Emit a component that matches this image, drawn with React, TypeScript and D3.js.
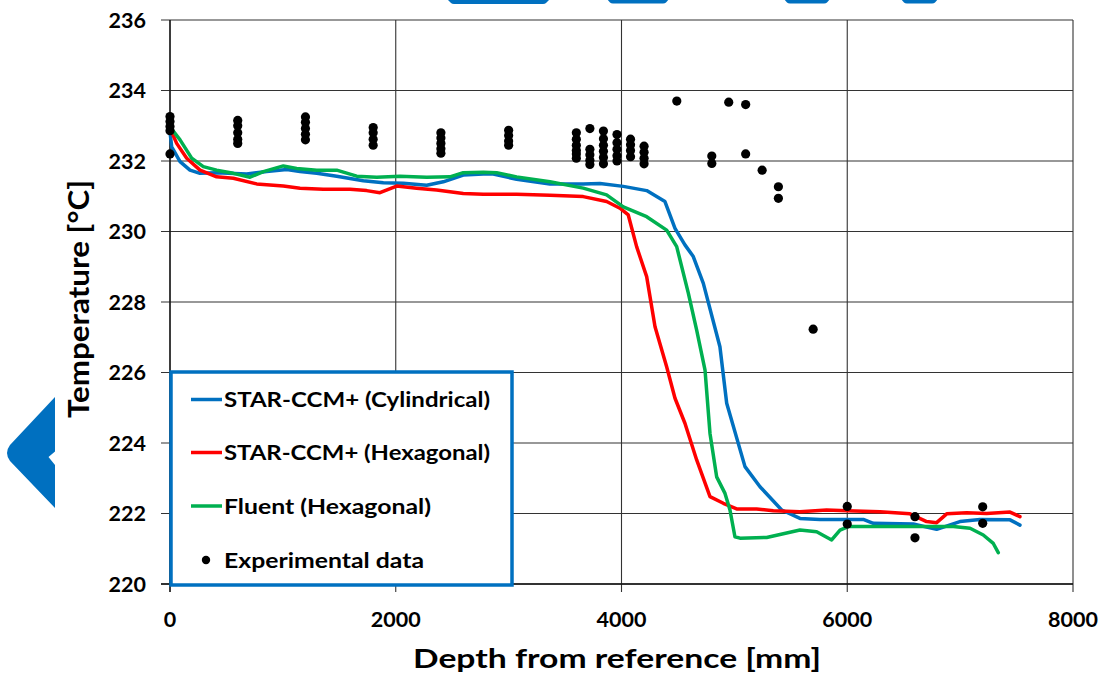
import React from "react";
import * as d3 from "d3";

const xTicks = [0, 2000, 4000, 6000, 8000];
const yTicks = [220, 222, 224, 226, 228, 230, 232, 234, 236];

const seriesNames = [
  "STAR-CCM+ (Cylindrical)",
  "STAR-CCM+ (Hexagonal)",
  "Fluent (Hexagonal)",
];
const seriesColors = ["#0070C0", "#FF0000", "#00B050"];

const cylindrical: [number, number][] = [
  [0, 232.83], [15, 232.4], [89, 231.98], [177, 231.74], [266, 231.65], [413, 231.67],
  [679, 231.63], [856, 231.7], [1034, 231.76], [1152, 231.7], [1300, 231.65], [1477, 231.57],
  [1713, 231.44], [1890, 231.38], [2067, 231.37], [2274, 231.31], [2421, 231.41], [2598, 231.6],
  [2776, 231.63], [2864, 231.63], [3071, 231.48], [3366, 231.35], [3661, 231.35], [3809, 231.36],
  [4016, 231.28], [4223, 231.16], [4385, 230.85], [4474, 230.09], [4562, 229.62], [4636, 229.29],
  [4725, 228.53], [4872, 226.73], [4932, 225.13], [5094, 223.33], [5227, 222.76], [5419, 222.1],
  [5581, 221.86], [5758, 221.83], [5847, 221.83], [6142, 221.83], [6231, 221.72], [6585, 221.7],
  [6792, 221.55], [6998, 221.77], [7176, 221.83], [7442, 221.82], [7530, 221.67],
];

const hexagonal: [number, number][] = [
  [0, 232.93], [59, 232.5], [148, 232.08], [266, 231.74], [413, 231.55], [561, 231.51],
  [768, 231.35], [1004, 231.29], [1152, 231.23], [1358, 231.2], [1595, 231.2], [1742, 231.16],
  [1860, 231.1], [2008, 231.29], [2185, 231.23], [2362, 231.18], [2598, 231.08], [2776, 231.06],
  [3071, 231.06], [3366, 231.03], [3661, 230.99], [3868, 230.85], [3986, 230.66], [4060, 230.47],
  [4134, 229.57], [4223, 228.72], [4297, 227.3], [4400, 226.16], [4474, 225.27], [4562, 224.56],
  [4666, 223.52], [4784, 222.48], [4902, 222.29], [5020, 222.13], [5197, 222.13], [5345, 222.08],
  [5581, 222.05], [5817, 222.1], [5995, 222.08], [6290, 222.05], [6556, 221.99], [6703, 221.77],
  [6792, 221.74], [6881, 221.99], [7058, 222.02], [7235, 222.0], [7442, 222.04], [7530, 221.91],
];

const fluent: [number, number][] = [
  [0, 232.97], [89, 232.6], [192, 232.08], [295, 231.84], [413, 231.74], [561, 231.65],
  [709, 231.54], [827, 231.7], [1004, 231.86], [1122, 231.79], [1300, 231.74], [1477, 231.74],
  [1654, 231.57], [1831, 231.54], [2037, 231.57], [2274, 231.54], [2480, 231.55], [2598, 231.67],
  [2776, 231.68], [2894, 231.67], [3071, 231.55], [3366, 231.41], [3661, 231.23], [3868, 231.04],
  [4016, 230.7], [4223, 230.42], [4400, 230.04], [4489, 229.57], [4592, 228.25], [4666, 227.2],
  [4740, 226.07], [4784, 224.27], [4843, 223.04], [4917, 222.57], [4961, 222.1], [5005, 221.34],
  [5050, 221.3], [5286, 221.32], [5581, 221.53], [5729, 221.48], [5862, 221.25], [5936, 221.53],
  [6009, 221.63], [6290, 221.63], [6585, 221.63], [6940, 221.63], [7088, 221.58], [7205, 221.39],
  [7294, 221.15], [7338, 220.89],
];

const experimental: [number, number][] = [
  [0, 233.26], [0, 233.12], [0, 232.98], [0, 232.86], [0, 232.2],
  [600, 233.15], [600, 233.0], [600, 232.8], [600, 232.62], [600, 232.5],
  [1200, 233.25], [1200, 233.1], [1200, 232.92], [1200, 232.76], [1200, 232.6],
  [1800, 232.95], [1800, 232.8], [1800, 232.62], [1800, 232.45],
  [2400, 232.8], [2400, 232.65], [2400, 232.5], [2400, 232.35], [2400, 232.22],
  [3000, 232.87], [3000, 232.72], [3000, 232.57], [3000, 232.45],
  [3600, 232.8], [3600, 232.62], [3600, 232.45], [3600, 232.3], [3600, 232.2], [3600, 232.08],
  [3720, 232.92], [3720, 232.33], [3720, 232.18], [3720, 232.02], [3720, 231.9],
  [3840, 232.85], [3840, 232.63], [3840, 232.45], [3840, 232.28], [3840, 232.1], [3840, 231.92],
  [3960, 232.75], [3960, 232.52], [3960, 232.33], [3960, 232.15], [3960, 232.0],
  [4080, 232.62], [4080, 232.46], [4080, 232.3], [4080, 232.12],
  [4200, 232.42], [4200, 232.25], [4200, 232.08], [4200, 231.92],
  [4490, 233.7], [4950, 233.67], [5100, 233.6], [4800, 232.14], [4800, 231.93],
  [5100, 232.2], [5246, 231.74], [5390, 231.27], [5390, 230.94], [5698, 227.23],
  [6000, 222.2], [6000, 221.7], [6600, 221.91], [6600, 221.31], [7200, 222.19], [7200, 221.72],
];

const legendLabels = [...seriesNames, "Experimental data"];
const legendWidths = [266, 266, 207, 200];

const FONT = "Lato, 'Open Sans', sans-serif";

export default function App() {
  const x = d3.scaleLinear().domain([0, 8000]).range([170, 1073]);
  const y = d3.scaleLinear().domain([220, 236]).range([584, 20]);
  const line = d3
    .line<[number, number]>()
    .x((d) => x(d[0]))
    .y((d) => y(d[1]));
  const series = [cylindrical, hexagonal, fluent];

  const legendY = [399.5, 452.5, 506, 560];

  return (
    <svg
      width={1110}
      height={681}
      style={{ position: "absolute", left: 0, top: 0, background: "#fff" }}
      fontFamily={FONT}
    >
      {/* decorative shapes */}
      <g fill="#0070C0">
        <path d="M447,-1 L550,-1 L546,3 Q545,4 543,4 L454,4 Q452,4 451,3 Z" />
        <path d="M607,-1 L669,-1 L666,2.5 Q665,3.5 663,3.5 L613,3.5 Q611,3.5 610,2.5 Z" />
        <path d="M784,-1 L830,-1 L827,2.5 Q826,3.5 824,3.5 L790,3.5 Q788,3.5 787,2.5 Z" />
        <path d="M901,-1 L938,-1 L935,2.5 Q934,3.5 932,3.5 L907,3.5 Q905,3.5 904,2.5 Z" />
        <path d="M55,397 L55,451.5 L48.5,457 L55,465 L55,508 L10,461 Q4,453 10,445 Z" />
      </g>

      {/* gridlines */}
      <g stroke="#333" strokeWidth={1.1}>
        {yTicks.map((t) => (
          <line key={"gy" + t} x1={x(0) - 9} x2={x(8000)} y1={y(t)} y2={y(t)} />
        ))}
        {xTicks.map((t) => (
          <line key={"gx" + t} x1={x(t)} x2={x(t)} y1={y(236)} y2={y(220) + 8} />
        ))}
      </g>
      <line x1={x(0)} x2={x(0)} y1={y(236)} y2={y(220) + 8} stroke="#111" strokeWidth={1.3} />
      <line x1={x(0) - 9} x2={x(8000)} y1={y(220)} y2={y(220)} stroke="#111" strokeWidth={1.3} />

      {/* y tick labels */}
      {yTicks.map((t) => (
        <text
          key={"ly" + t}
          x={146}
          y={y(t) + 7.5}
          textAnchor="end"
          fontSize={21.5}
          fontWeight={700}
          fill="#000"
        >
          {t}
        </text>
      ))}
      {/* x tick labels */}
      {xTicks.map((t) => (
        <text
          key={"lx" + t}
          x={x(t)}
          y={627}
          textAnchor="middle"
          fontSize={21.5}
          fontWeight={700}
          fill="#000"
        >
          {t}
        </text>
      ))}

      {/* series lines */}
      {series.map((s, i) => (
        <path
          key={"s" + i}
          d={line(s) || ""}
          fill="none"
          stroke={seriesColors[i]}
          strokeWidth={3.5}
          strokeLinejoin="round"
          strokeLinecap="round"
        />
      ))}

      {/* experimental points */}
      <g fill="#000">
        {experimental.map((d, i) => (
          <circle key={"p" + i} cx={x(d[0])} cy={y(d[1])} r={4.6} />
        ))}
      </g>

      {/* axis titles */}
      <text
        x={617}
        y={668}
        textAnchor="middle"
        fontSize={26.5}
        fontWeight={700}
        textLength={408}
        lengthAdjust="spacingAndGlyphs"
      >
        Depth from reference [mm]
      </text>
      <text
        transform="translate(88.5,299) rotate(-90)"
        textAnchor="middle"
        fontSize={28}
        fontWeight={700}
        textLength={238}
        lengthAdjust="spacingAndGlyphs"
      >
        Temperature [°C]
      </text>

      {/* legend */}
      <rect
        x={171}
        y={372}
        width={341}
        height={213}
        fill="#fff"
        stroke="#0070C0"
        strokeWidth={3.5}
      />
      {legendLabels.map((lab, i) => (
        <g key={"lg" + i}>
          {i < 3 ? (
            <line
              x1={191}
              x2={222}
              y1={legendY[i]}
              y2={legendY[i]}
              stroke={seriesColors[i]}
              strokeWidth={3.5}
            />
          ) : (
            <circle cx={206} cy={legendY[i]} r={4.2} fill="#000" />
          )}
          <text
            x={224}
            y={legendY[i] + 7.5}
            fontSize={21}
            fontWeight={700}
            textLength={legendWidths[i]}
            lengthAdjust="spacingAndGlyphs"
            fill="#000"
          >
            {lab}
          </text>
        </g>
      ))}
    </svg>
  );
}
